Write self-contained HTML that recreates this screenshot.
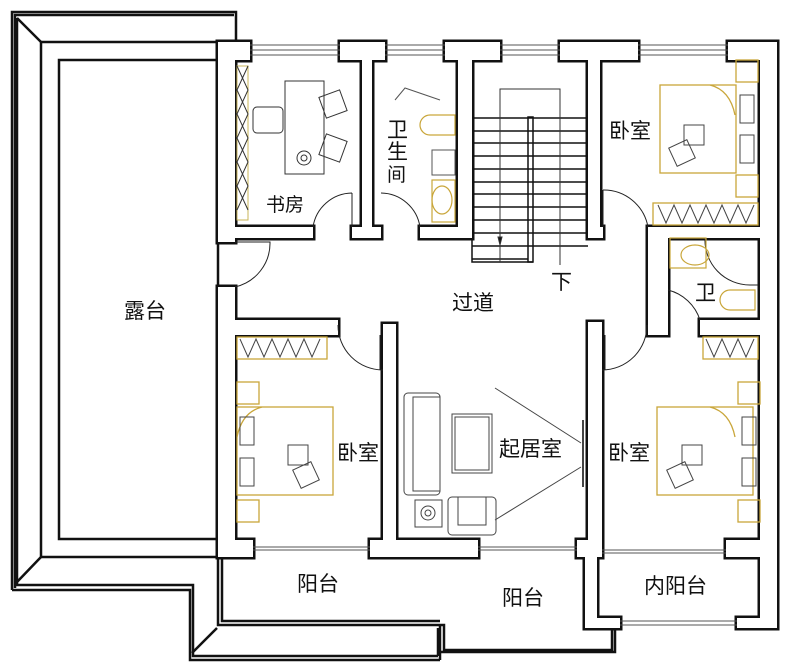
<!DOCTYPE html>
<html><head><meta charset="utf-8"><style>
html,body{margin:0;padding:0;background:#fff;}
svg{display:block;}
text{font-family:"Liberation Sans","Noto Sans CJK SC",sans-serif;font-size:21px;fill:#111;}
</style></head><body>
<svg width="789" height="668" viewBox="0 0 789 668" xmlns="http://www.w3.org/2000/svg">
<defs>
<g id="w">
<rect x="218" y="42" width="32" height="18"/>
<rect x="218" y="42" width="17" height="200"/>
<rect x="235" y="227" width="78" height="11"/>
<rect x="340" y="42" width="45" height="18"/>
<rect x="362" y="42" width="10" height="196"/>
<rect x="352" y="227" width="29" height="11"/>
<rect x="420" y="227" width="52" height="11"/>
<rect x="445" y="42" width="55" height="18"/>
<rect x="458" y="42" width="14" height="196"/>
<rect x="560" y="42" width="78" height="18"/>
<rect x="588" y="42" width="12" height="196"/>
<rect x="588" y="227" width="15" height="11"/>
<rect x="648" y="227" width="112" height="11"/>
<rect x="728" y="42" width="49" height="18"/>
<rect x="760" y="42" width="17" height="586"/>
<rect x="648" y="227" width="20" height="108"/>
<rect x="700" y="320" width="60" height="15"/>
<rect x="588" y="322" width="14" height="218"/>
<rect x="218" y="287" width="17" height="253"/>
<rect x="235" y="320" width="103" height="15"/>
<rect x="383" y="324" width="13" height="216"/>
<rect x="218" y="540" width="35" height="17"/>
<rect x="370" y="540" width="108" height="17"/>
<rect x="577" y="540" width="25" height="17"/>
<rect x="585" y="540" width="12" height="88"/>
<rect x="726" y="540" width="51" height="17"/>
<rect x="585" y="618" width="35" height="10"/>
<rect x="737" y="618" width="40" height="10"/>
</g>
</defs>
<g fill="none" stroke="#111" stroke-width="2.5">
<path d="M12,590 V12 H236 V42"/>
<path d="M15,588 V15 H234"/>
<path d="M17,585 V18"/>
<path d="M17,18 L41,42"/>
<path d="M250,42 H41 V557 H218"/>
<path d="M41,557 L17,582"/>
<path d="M12,590 H190 V660 H440"/>
<path d="M15,585 H193 V656 H438"/>
<path d="M218,557 V625 H444 V650 H612 V628"/>
<path d="M222,557 V621 H440"/>
<path d="M217,628 L192,653"/>
<path d="M438,628 V656 M440,626 V660"/>
<path d="M441,652 H615 V628"/>
<rect x="59" y="60" width="159" height="479"/>
</g>
<use href="#w" fill="none" stroke="#111" stroke-width="5"/>
<use href="#w" fill="#fff" stroke="none"/>
<g stroke="#555" stroke-width="1" fill="none">
<path d="M250,45H340M250,50H340M250,55H340"/>
<path d="M385,45H445M385,50H445M385,55H445"/>
<path d="M500,45H560M500,50H560M500,55H560"/>
<path d="M638,45H728M638,50H728M638,55H728"/>
<path d="M620,621H737M620,625H737"/>
<path d="M253,547H370M253,550H370"/>
<path d="M478,547H577M478,550H577"/>
<path d="M602,550H726M602,553H726"/>
</g>
<g fill="none" stroke="#222" stroke-width="1">
<path d="M235,242 H270 A45,45 0 0 1 235,287"/>
<path d="M352,193 V227 M352,193 A40,40 0 0 0 313,227"/>
<path d="M381,193 A40,40 0 0 1 420,227"/>
<path d="M603,190 V227 M603,190 A45,45 0 0 1 648,227"/>
<path d="M668,290 A45,45 0 0 1 700,320"/>
<path d="M383,370 A45,45 0 0 1 338,325 M380,335 V370"/>
<path d="M602,370 A45,45 0 0 0 647,325 M605,335 V370"/>
<path d="M705,238 A45,45 0 0 0 750,285 H758"/>
</g>
<g stroke="#111" stroke-width="1.5" fill="none">
<path d="M472,118H588M472,131H588M472,143H588M472,156H588M472,169H588M472,182H588M472,194H588M472,207H588M472,220H588M472,233H588M472,246H588M472,259H528"/>
<rect x="528" y="117" width="5" height="145"/>
<path d="M472,238V262H533"/>
</g>
<g stroke="#333" stroke-width="1" fill="none">
<path d="M500,262V89H560V265"/>
<path d="M500,245l-2,-8h4z" fill="#111"/>
</g>
<g stroke="#333" stroke-width="1" fill="none">
<rect x="237" y="66" width="11" height="154" stroke="#c9b45a"/>
<path d="M237,66L248,90L237,114L248,138L237,162L248,186L237,210M248,66L237,90L248,114L237,138L248,162L237,186L248,210"/>
<rect x="285" y="81" width="39" height="93"/>
<rect x="253" y="107" width="30" height="26" rx="4"/>
<rect x="322" y="93" width="22" height="22" transform="rotate(-20 333 104)"/>
<rect x="322" y="137" width="22" height="22" transform="rotate(20 333 148)"/>
<circle cx="304" cy="158" r="7"/><circle cx="304" cy="158" r="3"/>
</g>
<g stroke="#c9a63a" stroke-width="1.2" fill="none">
<path d="M430,115h25v20h-25a10,10 0 0 1 0,-20z"/>
<ellipse cx="442" cy="200" rx="10" ry="14"/>
<rect x="432" y="180" width="23" height="42"/>
<ellipse cx="695" cy="255" rx="14" ry="10"/>
<rect x="670" y="238" width="36" height="30"/>
<path d="M730,290h25v20h-25a10,10 0 0 1 0,-20z"/>
</g>
<g stroke="#555" stroke-width="1" fill="none">
<rect x="432" y="150" width="23" height="25"/>
<path d="M395,100 L405,88 L440,100"/>
</g>
<g stroke="#c9a63a" stroke-width="1.3" fill="none">
<rect x="660" y="85" width="76" height="88"/>
<rect x="736" y="60" width="22" height="22"/><rect x="736" y="175" width="22" height="22"/>
<path d="M710,85 q20,5 25,30"/>
<rect x="237" y="382" width="22" height="22"/><rect x="237" y="500" width="22" height="22"/>
<rect x="237" y="407" width="96" height="88"/>
<path d="M262,407 q-20,5 -25,30"/>
<rect x="738" y="382" width="22" height="22"/><rect x="738" y="500" width="22" height="22"/>
<rect x="657" y="407" width="96" height="88"/>
<path d="M710,407 q20,5 25,30"/>
<rect x="653" y="203" width="105" height="22"/>
<rect x="237" y="337" width="90" height="22"/>
<rect x="703" y="337" width="55" height="22"/>
</g>
<g stroke="#444" stroke-width="1" fill="none">
<path d="M658,205l8,18l8,-18l8,18l8,-18l8,18l8,-18l8,18l8,-18l8,18l8,-18l8,18l8,-18"/>
<path d="M240,339l8,18l8,-18l8,18l8,-18l8,18l8,-18l8,18l8,-18l8,18l8,-18"/>
<path d="M706,339l8,18l8,-18l8,18l8,-18l8,18l8,-18"/>
<rect x="740" y="95" width="14" height="28"/><rect x="740" y="135" width="14" height="28"/>
<rect x="240" y="417" width="14" height="28"/><rect x="240" y="458" width="14" height="28"/>
<rect x="742" y="417" width="14" height="28"/><rect x="742" y="458" width="14" height="28"/>
<rect x="684" y="125" width="20" height="20"/><rect x="672" y="143" width="20" height="20" transform="rotate(-25 682 153)"/>
<rect x="288" y="445" width="20" height="20"/><rect x="296" y="465" width="20" height="20" transform="rotate(-25 306 475)"/>
<rect x="682" y="445" width="20" height="20"/><rect x="670" y="465" width="20" height="20" transform="rotate(-25 680 475)"/>
</g>
<g stroke="#444" stroke-width="1" fill="none">
<rect x="404" y="393" width="36" height="102" rx="4"/>
<rect x="413" y="397" width="27" height="94"/>
<rect x="452" y="414" width="40" height="59"/><rect x="455" y="417" width="34" height="53"/>
<rect x="415" y="500" width="27" height="27"/><circle cx="428" cy="513" r="7"/><circle cx="428" cy="513" r="3"/>
<rect x="448" y="497" width="48" height="38" rx="4"/><rect x="458" y="497" width="28" height="28"/>
<path d="M495,388 L581,443 M495,520 L581,467"/>
<path d="M583,420 V487" stroke-width="2"/>
</g>
<text x="124" y="318">露台</text>
<text x="266" y="211" style="font-size:19px">书房</text>
<text x="387" y="137">卫</text>
<text x="387" y="159">生</text>
<text x="387" y="181" style="font-size:19px">间</text>
<text x="452" y="310">过道</text>
<text x="551" y="289">下</text>
<text x="609" y="138">卧室</text>
<text x="695" y="300">卫</text>
<text x="337" y="460">卧室</text>
<text x="499" y="456">起居室</text>
<text x="608" y="460">卧室</text>
<text x="297" y="591">阳台</text>
<text x="502" y="605">阳台</text>
<text x="644" y="593">内阳台</text>
</svg>
</body></html>
